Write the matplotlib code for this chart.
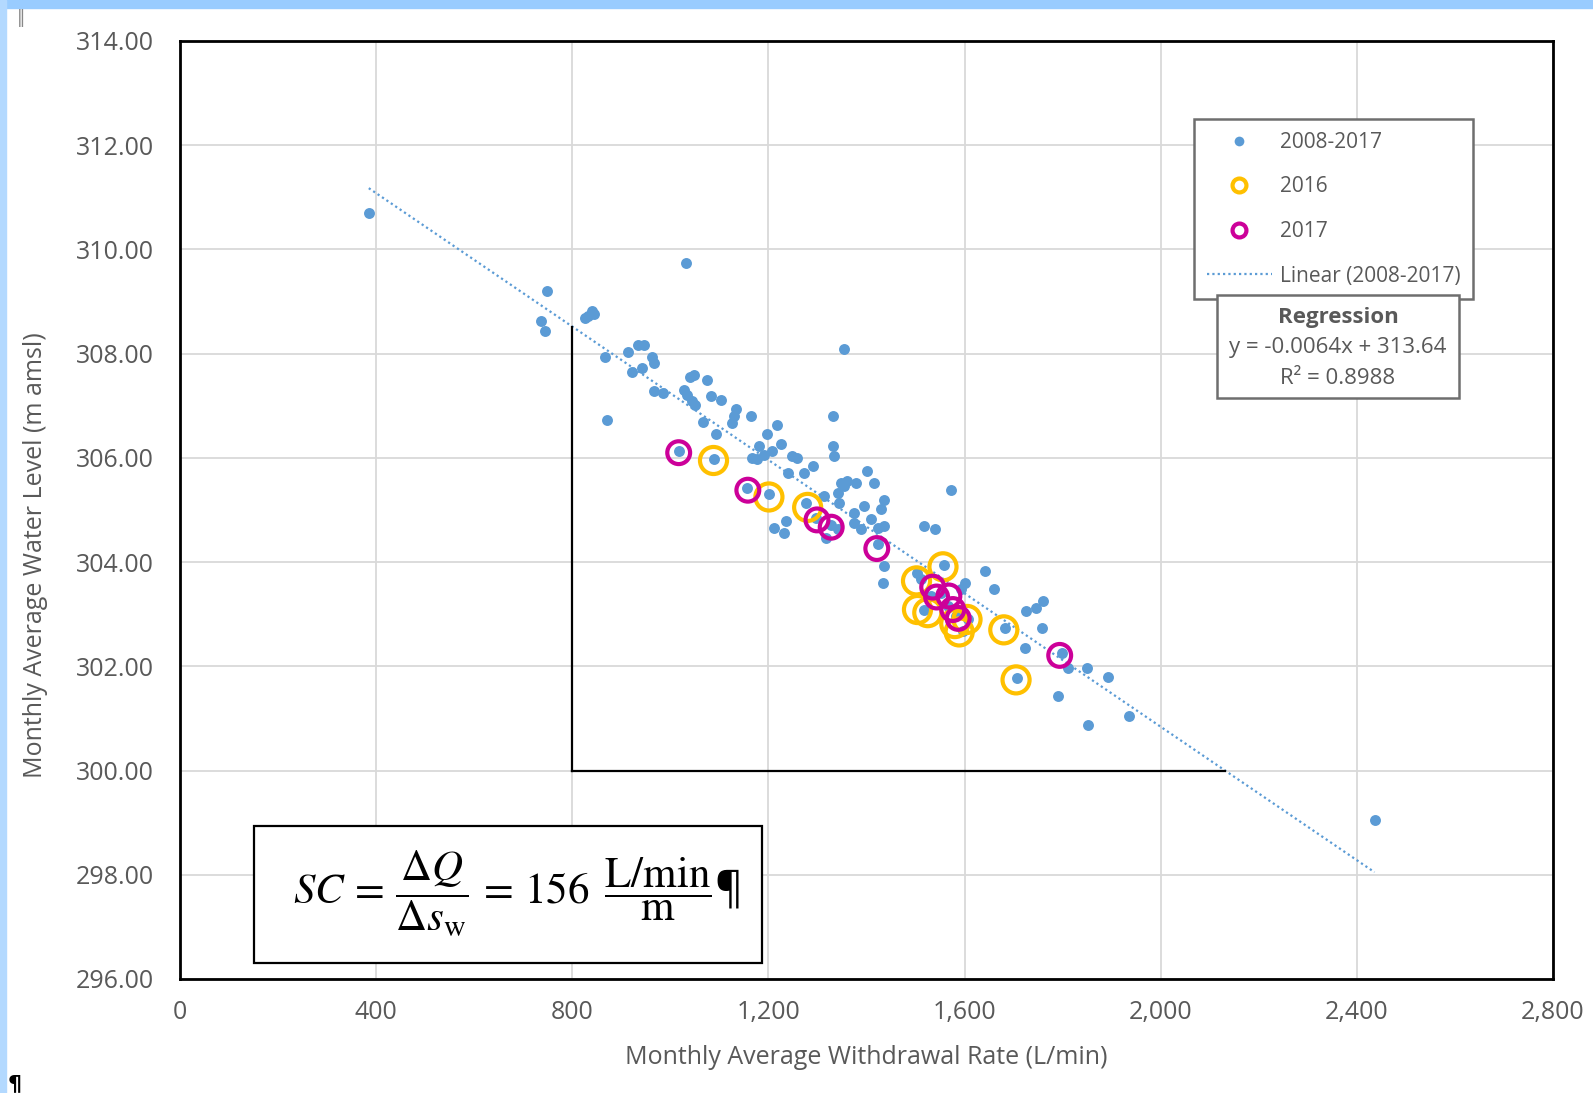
import numpy as np
import matplotlib.pyplot as plt
from matplotlib.lines import Line2D
from matplotlib.patches import Rectangle

plt.rcParams['font.family'] = ['Open Sans', 'DejaVu Sans']
plt.rcParams['mathtext.fontset'] = 'stix'

# monthly points 2008-2017 (withdrawal rate L/min, water level m amsl)
all_x = [385, 1032, 2436, 748, 736, 744, 826, 833, 840, 845, 867, 913, 935, 947, 962, 967,
         922, 942, 966, 986, 871, 1027, 1034, 1044, 1051, 1041, 1048, 1075, 1082, 1104, 1067,
         1133, 1130, 1126, 1164, 1094, 1017, 1089, 1354, 1331, 1218, 1198, 1181, 1225, 1208,
         1191, 1167, 1177, 1249, 1259, 1239, 1273, 1290, 1331, 1334, 1313, 1348, 1361, 1378,
         1341, 1344, 1354, 1402, 1416, 1436, 1430, 1375, 1395, 1409, 1423, 1436, 1375, 1389,
         1211, 1235, 1232, 1317, 1341, 1157, 1201, 1276, 1297, 1327, 1423, 1573, 1436, 1433,
         1518, 1539, 1641, 1661, 1760, 1746, 1726, 1757, 1723, 1682, 1798, 1811, 1849, 1893,
         1706, 1791, 1852, 1935, 1559, 1504, 1511, 1518, 1532, 1593, 1600, 1596, 1607, 1566,
         1552, 1583]
all_y = [310.70, 309.74, 299.06, 309.21, 308.62, 308.43, 308.68, 308.72, 308.81, 308.76,
         307.94, 308.04, 308.17, 308.17, 307.94, 307.83, 307.64, 307.73, 307.28, 307.25,
         306.73, 307.31, 307.21, 307.09, 307.02, 307.56, 307.60, 307.50, 307.19, 307.12,
         306.68, 306.93, 306.80, 306.67, 306.80, 306.45, 306.13, 305.98, 308.08, 306.80,
         306.64, 306.45, 306.22, 306.26, 306.13, 306.06, 306.00, 305.97, 306.03, 306.00,
         305.71, 305.71, 305.85, 306.22, 306.03, 305.26, 305.52, 305.55, 305.52, 305.33,
         305.13, 305.46, 305.74, 305.52, 305.20, 305.01, 304.95, 305.07, 304.82, 304.66,
         304.69, 304.75, 304.63, 304.66, 304.79, 304.56, 304.47, 304.63, 305.42, 305.30,
         305.14, 304.85, 304.72, 304.34, 305.38, 303.92, 303.60, 304.69, 304.63, 303.83,
         303.48, 303.25, 303.12, 303.06, 302.74, 302.36, 302.74, 302.26, 301.97, 301.97,
         301.80, 301.78, 301.43, 300.87, 301.04, 303.95, 303.80, 303.67, 303.09, 303.35,
         303.48, 303.60, 302.68, 302.90, 303.16, 303.41, 302.96]

x_2016 = [1088, 1201, 1280, 1502, 1556, 1504, 1525, 1589, 1605, 1580, 1680, 1705]
y_2016 = [305.95, 305.25, 305.05, 303.64, 303.91, 303.09, 303.03, 302.66, 302.90, 302.82,
          302.70, 301.74]

x_2017 = [1017, 1158, 1299, 1328, 1421, 1535, 1543, 1568, 1576, 1587, 1794]
y_2017 = [306.10, 305.38, 304.81, 304.67, 304.26, 303.52, 303.33, 303.35, 303.09, 302.92,
          302.21]

slope = -0.0064
intercept = 313.64
r2 = 0.8988
sc_value = 156
q_pick = 800      # withdrawal rate where the drawdown triangle starts
level_base = 300  # water level at the triangle base

x_ticks = [0, 400, 800, 1200, 1600, 2000, 2400, 2800]
y_ticks = [296, 298, 300, 302, 304, 306, 308, 310, 312, 314]

W, H = 1593, 1093
blue = '#5B9BD5'
orange = '#FFC000'
magenta = '#CC0099'
grey_txt = '#595959'


def fx(px):
    return px / W


def fy(py):
    return 1 - py / H


fig = plt.figure(figsize=(W / 100, H / 100), dpi=100)
# screenshot frame strips
fig.patches.append(Rectangle((0, fy(8)), 1, 8 / H, transform=fig.transFigure,
                             color='#99CCFF', zorder=0))
fig.patches.append(Rectangle((0, 0), fx(6), 1, transform=fig.transFigure,
                             color='#B3D9FF', zorder=0))
fig.text(fx(17), fy(9), '‖', fontsize=12, color='#888888', va='top', ha='left',
         family='DejaVu Sans')
fig.text(fx(8), fy(1094), '¶', fontsize=16, color='black', va='bottom', ha='left',
         fontweight='bold', family='DejaVu Sans')

ax = fig.add_axes([fx(180), fy(979), (1553 - 180) / W, (979 - 41) / H])
ax.set_xlim(0, 2800)
ax.set_ylim(296, 314)
ax.set_xticks(x_ticks)
ax.set_yticks(y_ticks)
ax.set_xticklabels([f'{v:,}' for v in x_ticks])
ax.set_yticklabels([f'{v:.2f}' for v in y_ticks])
ax.tick_params(length=0, labelsize=18, colors=grey_txt)
ax.tick_params(axis='y', pad=19)
ax.tick_params(axis='x', pad=15)
ax.grid(True, color='#D9D9D9', lw=1.3)
ax.set_axisbelow(True)
for s in ax.spines.values():
    s.set_linewidth(2)
    s.set_color('black')

ax.scatter(all_x, all_y, s=62, color=blue, lw=0, zorder=3)

# Excel-style linear trendline over the data range
tx = np.array([min(all_x), max(all_x)])
ax.plot(tx, slope * tx + intercept, color=blue, lw=1.6, ls=(0, (1, 1.4)), zorder=4)

ax.scatter(x_2016, y_2016, s=380, facecolors='none', edgecolors=orange, lw=3, zorder=5)
ax.scatter(x_2017, y_2017, s=270, facecolors='none', edgecolors=magenta, lw=3, zorder=6)

# drawdown triangle legs
q_end = (level_base - intercept) / slope
ax.plot([q_pick, q_pick], [slope * q_pick + intercept, level_base], color='black', lw=1.6, zorder=4)
ax.plot([q_pick, q_end], [level_base, level_base], color='black', lw=1.6, zorder=4)

fig.text(fx(866), fy(1057), 'Monthly Average Withdrawal Rate (L/min)', ha='center', va='center',
         fontsize=18, color=grey_txt)
fig.text(fx(36), fy(555), 'Monthly Average Water Level (m amsl)', ha='center', va='center',
         rotation=90, fontsize=18, color=grey_txt)

handles = [
    Line2D([], [], ls='', marker='o', ms=7, color=blue, mew=0),
    Line2D([], [], ls='', marker='o', ms=10, mfc='none', mec=orange, mew=3),
    Line2D([], [], ls='', marker='o', ms=10, mfc='none', mec=magenta, mew=3),
    Line2D([], [], color=blue, lw=1.6, ls=(0, (1, 1.4))),
]
labels = ['2008-2017', '2016', '2017', 'Linear (2008-2017)']
leg = ax.legend(handles, labels, loc='upper left',
                bbox_to_anchor=((1194 - 180) / 1373, (979 - 119) / 938),
                borderaxespad=0, fontsize=15, labelcolor=grey_txt, handlelength=3.1,
                handletextpad=0.4, labelspacing=1.13, borderpad=0.62, fancybox=False,
                framealpha=1)
leg.get_frame().set_edgecolor('#6E6E6E')
leg.get_frame().set_linewidth(1.8)
leg.set_zorder(10)

# regression box under the legend
fig.patches.append(Rectangle((fx(1217), fy(398)), (1459 - 1217) / W, (398 - 295) / H,
                             transform=fig.transFigure, facecolor='white',
                             edgecolor='#6E6E6E', lw=1.8, zorder=9))
fig.text(fx(1338), fy(318), 'Regression', ha='center', va='center', fontsize=16,
         fontweight='bold', color=grey_txt, zorder=11)
fig.text(fx(1338), fy(348), f'y = {slope}x + {intercept}', ha='center', va='center',
         fontsize=16, color=grey_txt, zorder=11)
fig.text(fx(1338), fy(379), f'R² = {r2}', ha='center', va='center', fontsize=16,
         color=grey_txt, zorder=11)

# specific capacity box
fig.patches.append(Rectangle((fx(254), fy(963)), (762 - 254) / W, (963 - 826) / H,
                             transform=fig.transFigure, facecolor='white',
                             edgecolor='black', lw=1.6, zorder=9))
fig.text(fx(517), fy(893),
         r'$SC\,=\,\dfrac{\Delta Q}{\Delta s_{\mathrm{w}}}\,=\,' + str(sc_value)
         + r'\ \,\dfrac{\mathrm{L/min}}{\mathrm{m}}$¶',
         ha='center', va='center', fontsize=31, color='black', zorder=11)

fig.savefig('out.png', dpi=100)
